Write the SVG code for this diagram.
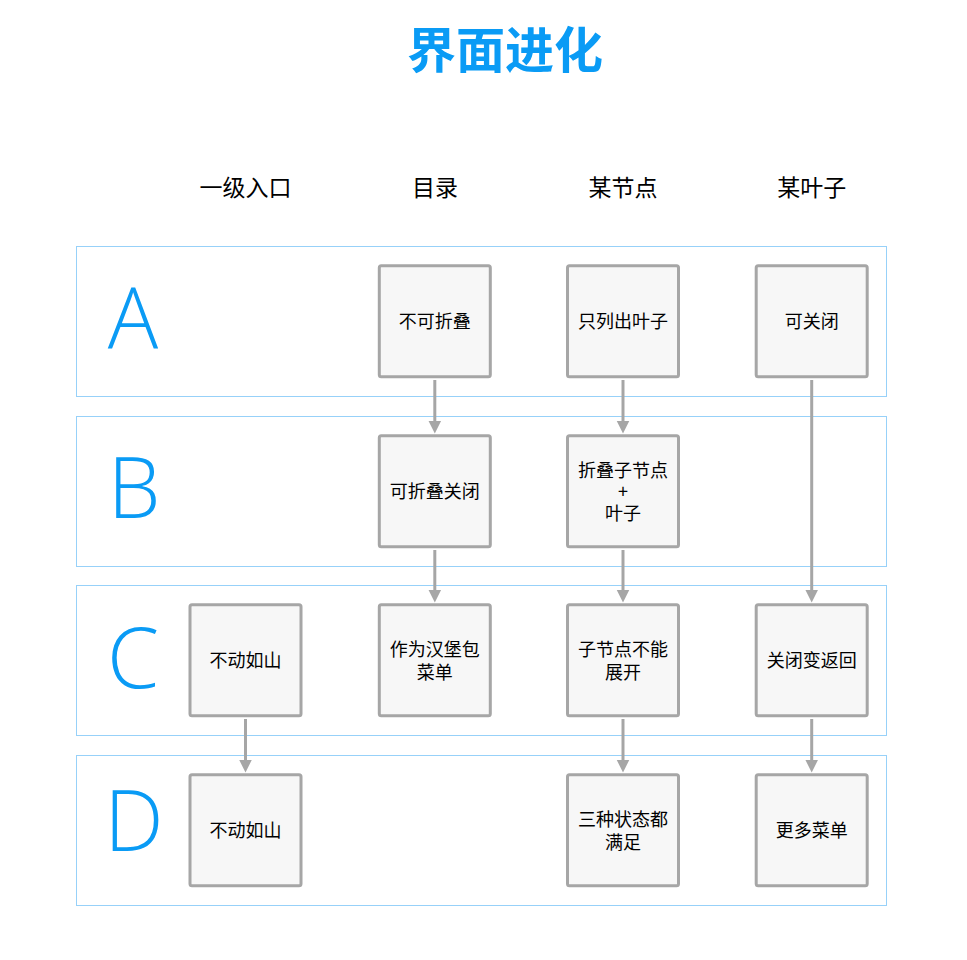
<svg xmlns="http://www.w3.org/2000/svg" width="967" height="960" viewBox="0 0 967 960">
<defs>
<style>
.lane{fill:none;stroke:#2ea3f2;stroke-width:1;stroke-dasharray:1 1;}
.lbl{font-family:"Open Sans","Liberation Sans",sans-serif;font-weight:300;font-size:84px;fill:#0a9bf5;text-anchor:middle;}
.hdr{font-family:"Noto Sans CJK SC","Liberation Sans",sans-serif;font-size:23px;fill:#000;text-anchor:middle;}
.ttl{font-family:"Noto Sans CJK SC","Liberation Sans",sans-serif;font-weight:bold;font-size:49px;fill:#0a9bf5;text-anchor:middle;}
.box{fill:#f7f7f7;stroke:#a6a6a6;stroke-width:3;}
.nt{font-family:"Noto Sans CJK SC","Liberation Sans",sans-serif;font-size:18px;fill:#000;text-anchor:middle;}
.ln{stroke:#a6a6a6;stroke-width:3;fill:none;marker-end:url(#ah);}
</style>
<marker id="ah" markerUnits="userSpaceOnUse" markerWidth="14" markerHeight="14" viewBox="0 0 14 14" refX="1" refY="7" orient="auto">
<path d="M0,0.5 L13,7 L0,13.5 z" fill="#a6a6a6"/>
</marker>
</defs>
<rect width="967" height="960" fill="#fff"/>
<text class="ttl" x="505" y="68">界面进化</text>
<g id="headers">
<text class="hdr" x="245.5" y="196">一级入口</text>
<text class="hdr" x="435" y="196">目录</text>
<text class="hdr" x="623" y="196">某节点</text>
<text class="hdr" x="811.7" y="196">某叶子</text>
</g>
<g id="lanes">
<g id="laneA"><rect class="lane" x="76.5" y="246.5" width="810" height="150"/><text class="lbl" x="133" y="348">A</text></g>
<g id="laneB"><rect class="lane" x="76.5" y="416.5" width="810" height="150"/><text class="lbl" x="134" y="518">B</text></g>
<g id="laneC"><rect class="lane" x="76.5" y="585.5" width="810" height="150"/><text class="lbl" x="133" y="688">C</text></g>
<g id="laneD"><rect class="lane" x="76.5" y="755.5" width="810" height="150"/><text class="lbl" x="134" y="851">D</text></g>
</g>
<g id="connectors">
<line class="ln" x1="434.8" y1="380" x2="434.8" y2="421.5"/>
<line class="ln" x1="434.8" y1="550" x2="434.8" y2="590.5"/>
<line class="ln" x1="623" y1="380" x2="623" y2="421.5"/>
<line class="ln" x1="623" y1="550" x2="623" y2="590.5"/>
<line class="ln" x1="623" y1="719" x2="623" y2="760.5"/>
<line class="ln" x1="811.7" y1="380" x2="811.7" y2="590.5"/>
<line class="ln" x1="811.7" y1="719" x2="811.7" y2="760.5"/>
<line class="ln" x1="245.5" y1="719" x2="245.5" y2="760.5"/>
</g>
<g id="n_A2"><rect class="box" x="379.3" y="265.8" width="111" height="111" rx="2"/><text class="nt" x="434.8" y="328.3">不可折叠</text></g>
<g id="n_A3"><rect class="box" x="567.5" y="265.8" width="111" height="111" rx="2"/><text class="nt" x="623" y="328.3">只列出叶子</text></g>
<g id="n_A4"><rect class="box" x="756.2" y="265.8" width="111" height="111" rx="2"/><text class="nt" x="811.7" y="328.3">可关闭</text></g>
<g id="n_B2"><rect class="box" x="379.3" y="435.8" width="111" height="111" rx="2"/><text class="nt" x="434.8" y="498.3">可折叠关闭</text></g>
<g id="n_B3"><rect class="box" x="567.5" y="435.8" width="111" height="111" rx="2"/><text class="nt" x="623" y="476.8">折叠子节点<tspan x="623" dy="21.5">+</tspan><tspan x="623" dy="21.5">叶子</tspan></text></g>
<g id="n_C1"><rect class="box" x="190" y="604.8" width="111" height="111" rx="2"/><text class="nt" x="245.5" y="667.3">不动如山</text></g>
<g id="n_C2"><rect class="box" x="379.3" y="604.8" width="111" height="111" rx="2"/><text class="nt" x="434.8" y="655.8">作为汉堡包<tspan x="434.8" dy="23">菜单</tspan></text></g>
<g id="n_C3"><rect class="box" x="567.5" y="604.8" width="111" height="111" rx="2"/><text class="nt" x="623" y="655.8">子节点不能<tspan x="623" dy="23">展开</tspan></text></g>
<g id="n_C4"><rect class="box" x="756.2" y="604.8" width="111" height="111" rx="2"/><text class="nt" x="811.7" y="667.3">关闭变返回</text></g>
<g id="n_D1"><rect class="box" x="190" y="774.8" width="111" height="111" rx="2"/><text class="nt" x="245.5" y="837.3">不动如山</text></g>
<g id="n_D3"><rect class="box" x="567.5" y="774.8" width="111" height="111" rx="2"/><text class="nt" x="623" y="825.8">三种状态都<tspan x="623" dy="23">满足</tspan></text></g>
<g id="n_D4"><rect class="box" x="756.2" y="774.8" width="111" height="111" rx="2"/><text class="nt" x="811.7" y="837.3">更多菜单</text></g>
</svg>
